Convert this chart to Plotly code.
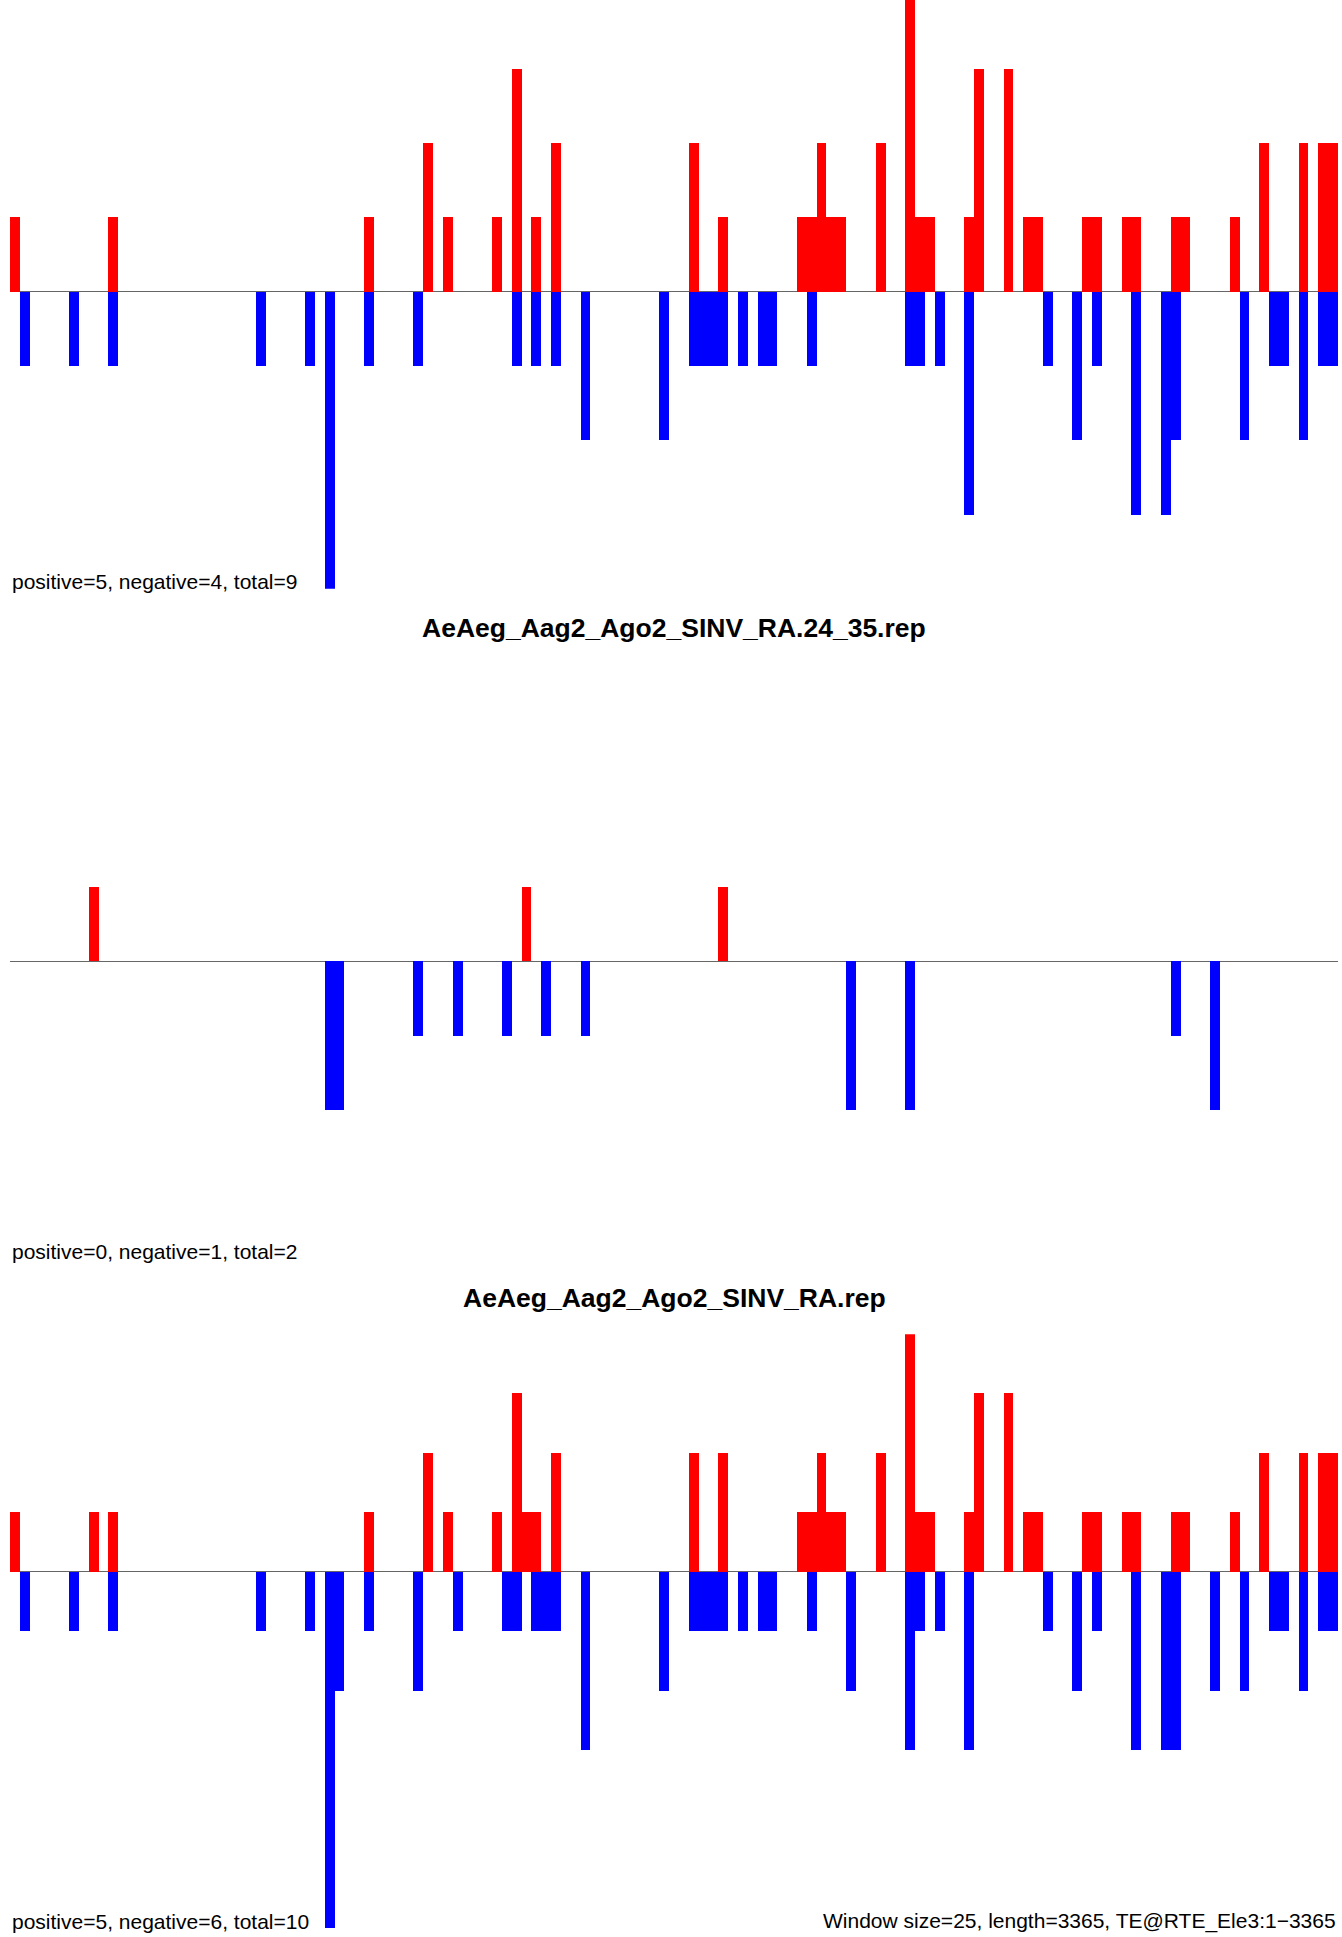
import plotly.graph_objects as go

W, H = 1342, 1937

# ---------------- data (window index -> read count) ----------------
n_windows = 135

# Panel 1 (title above image edge)
p1_pos_win = [0, 10, 36, 42, 44, 49, 51, 53, 55, 69, 72, 80, 81, 82, 83, 84, 88, 91, 92, 93,
              97, 98, 101, 103, 104, 109, 110, 113, 114, 118, 119, 124, 127, 131, 133, 134]
p1_pos_val = [1, 1, 1, 2, 1, 1, 3, 1, 2, 2, 1, 1, 1, 2, 1, 1, 2, 4, 1, 1,
              1, 3, 3, 1, 1, 1, 1, 1, 1, 1, 1, 1, 2, 2, 2, 2]
p1_neg_win = [1, 6, 10, 25, 30, 32, 36, 41, 51, 53, 55, 58, 66, 69, 70, 71, 72, 74, 76, 77,
              81, 91, 92, 94, 97, 105, 108, 110, 114, 117, 118, 125, 128, 129, 131, 133, 134]
p1_neg_val = [1, 1, 1, 1, 1, 4, 1, 1, 1, 1, 1, 2, 2, 1, 1, 1, 1, 1, 1, 1,
              1, 1, 1, 1, 3, 1, 2, 1, 3, 3, 2, 2, 1, 1, 2, 1, 1]

# Panel 2: AeAeg_Aag2_Ago2_SINV_RA.24_35.rep
p2_pos_win = [8, 52, 72]
p2_pos_val = [1, 1, 1]
p2_neg_win = [32, 33, 41, 45, 50, 54, 58, 85, 91, 118, 122]
p2_neg_val = [2, 2, 1, 1, 1, 1, 1, 2, 2, 1, 2]

# Panel 3: AeAeg_Aag2_Ago2_SINV_RA.rep
p3_pos_win = [0, 8, 10, 36, 42, 44, 49, 51, 52, 53, 55, 69, 72, 80, 81, 82, 83, 84, 88, 91,
              92, 93, 97, 98, 101, 103, 104, 109, 110, 113, 114, 118, 119, 124, 127, 131, 133, 134]
p3_pos_val = [1, 1, 1, 1, 2, 1, 1, 3, 1, 1, 2, 2, 2, 1, 1, 2, 1, 1, 2, 4,
              1, 1, 1, 3, 3, 1, 1, 1, 1, 1, 1, 1, 1, 1, 2, 2, 2, 2]
p3_neg_win = [1, 6, 10, 25, 30, 32, 33, 36, 41, 45, 50, 51, 53, 54, 55, 58, 66, 69, 70, 71,
              72, 74, 76, 77, 81, 85, 91, 92, 94, 97, 105, 108, 110, 114, 117, 118, 122, 125,
              128, 129, 131, 133, 134]
p3_neg_val = [1, 1, 1, 1, 1, 6, 2, 1, 2, 1, 1, 1, 1, 1, 1, 3, 2, 1, 1, 1,
              1, 1, 1, 1, 1, 2, 3, 1, 1, 3, 1, 2, 1, 3, 3, 3, 2, 2,
              1, 1, 2, 1, 1]

titles = ["", "AeAeg_Aag2_Ago2_SINV_RA.24_35.rep", "AeAeg_Aag2_Ago2_SINV_RA.rep"]
subs = ["positive=5, negative=4, total=9",
        "positive=0, negative=1, total=2",
        "positive=5, negative=6, total=10"]
footer = "Window size=25, length=3365, TE@RTE_Ele3:1\u22123365"

panels = [
    (p1_pos_win, p1_pos_val, p1_neg_win, p1_neg_val),
    (p2_pos_win, p2_pos_val, p2_neg_win, p2_neg_val),
    (p3_pos_win, p3_pos_val, p3_neg_win, p3_neg_val),
]

# ---------------- layout geometry (pixels) ----------------
x0_px, x1_px = 10, 1338
panel_px = [(0, 588.8), (663.8, 1258.2), (1334.2, 1928.6)]
panel_range = [(-4, 3.925), (-4, 4), (-6, 4)]
sub_y_px = [582, 1251, 1921]
title_y_px = [None, 628, 1298]


def py(p):
    return 1 - p / H


fig = go.Figure()
for k, (pw, pv, nw, nv) in enumerate(panels):
    ax = "" if k == 0 else str(k + 1)
    fig.add_trace(go.Bar(x=[w + 0.5 for w in pw], y=pv, width=1,
                         marker=dict(color="#FF0000", line=dict(width=0)),
                         xaxis="x" + ax, yaxis="y" + ax, hoverinfo="skip"))
    fig.add_trace(go.Bar(x=[w + 0.5 for w in nw], y=[-v for v in nv], width=1,
                         marker=dict(color="#0000FF", line=dict(width=0)),
                         xaxis="x" + ax, yaxis="y" + ax, hoverinfo="skip"))
    top, bot = panel_px[k]
    fig.layout["xaxis" + ax] = dict(domain=[x0_px / W, x1_px / W], range=[0, n_windows],
                                    showgrid=False, zeroline=False, showticklabels=False,
                                    ticks="", showline=False, anchor="y" + ax, fixedrange=True)
    fig.layout["yaxis" + ax] = dict(domain=[py(bot), py(top)], range=list(panel_range[k]),
                                    showgrid=False, zeroline=True, zerolinecolor="#666666",
                                    zerolinewidth=1, showticklabels=False, ticks="",
                                    showline=False, anchor="x" + ax, fixedrange=True)

annotations = []
for k in range(3):
    annotations.append(dict(text=subs[k], xref="paper", yref="paper", x=x0_px / W,
                            y=py(sub_y_px[k]), xanchor="left", yanchor="middle",
                            showarrow=False,
                            font=dict(family="Liberation Sans, Arial", size=21, color="#000000")))
    if title_y_px[k] is not None:
        annotations.append(dict(text="<b>" + titles[k] + "</b>", xref="paper", yref="paper",
                                x=(x0_px + x1_px) / 2 / W, y=py(title_y_px[k]),
                                xanchor="center", yanchor="middle", showarrow=False,
                                font=dict(family="Liberation Sans, Arial", size=26.5,
                                          color="#000000")))
annotations.append(dict(text=footer, xref="paper", yref="paper", x=x1_px / W,
                        y=py(sub_y_px[2]), xanchor="right", yanchor="middle", showarrow=False,
                        font=dict(family="Liberation Sans, Arial", size=21, color="#000000")))

fig.update_layout(width=W, height=H, margin=dict(l=0, r=0, t=0, b=0),
                  paper_bgcolor="white", plot_bgcolor="white",
                  barmode="overlay", bargap=0, showlegend=False,
                  annotations=annotations)

fig.write_html("out.html", config={"displayModeBar": False},
               post_script="document.body.style.margin='0px';"
                           "document.body.style.overflow='hidden';")
